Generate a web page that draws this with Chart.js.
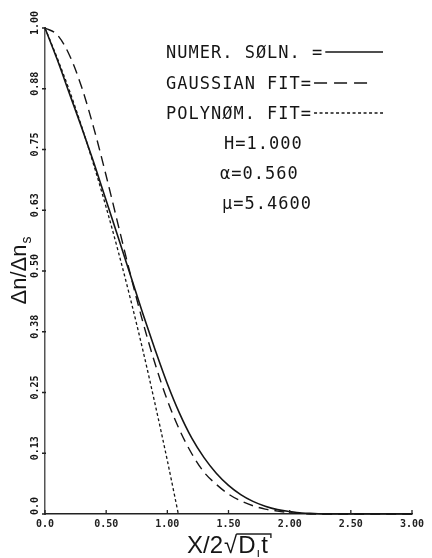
<!DOCTYPE html>
<html>
<head>
<meta charset="utf-8">
<script src="https://cdn.jsdelivr.net/npm/chart.js@4"></script>
<style>
  html, body { margin: 0; padding: 0; background: #fff; }
</style>
</head>
<body>
<canvas id="c" width="432" height="558"></canvas>
<script>
// x positions (X / 2 sqrt(D t)) for the numerical solution and gaussian fit
const xVals = [0, 0.1, 0.2, 0.3, 0.4, 0.5, 0.6, 0.7, 0.8, 0.9, 1.0, 1.1, 1.2, 1.3, 1.4, 1.5,
  1.6, 1.7, 1.8, 1.9, 2.0, 2.1, 2.2, 2.3, 2.4, 2.5, 2.6, 2.7, 2.8, 2.9, 3.0];
const numerSoln = [1.000, 0.935, 0.865, 0.795, 0.722, 0.645, 0.568, 0.490, 0.412, 0.338, 0.268,
  0.207, 0.156, 0.116, 0.084, 0.059, 0.040, 0.026, 0.016, 0.009, 0.005, 0.002, 0.001,
  0, 0, 0, 0, 0, 0, 0, 0];
const gaussFit = [1.000, 0.986, 0.944, 0.878, 0.793, 0.696, 0.593, 0.491, 0.395, 0.309, 0.234,
  0.173, 0.124, 0.086, 0.061, 0.041, 0.027, 0.017, 0.010, 0.006, 0.003, 0.001, 0,
  0, 0, 0, 0, 0, 0, 0, 0];
// polynomial fit stops where it hits zero
const polyX = [0, 0.1, 0.2, 0.3, 0.4, 0.5, 0.6, 0.7, 0.8, 0.9, 1.0, 1.09];
const polyFit = [1.000, 0.938, 0.871, 0.797, 0.717, 0.631, 0.539, 0.441, 0.337, 0.226, 0.110, 0];

const xTickLabels = ['0.0', '0.50', '1.00', '1.50', '2.00', '2.50', '3.00'];
const yTickLabels = ['0.0', '0.13', '0.25', '0.38', '0.50', '0.63', '0.75', '0.88', '1.00'];
const legendLabels = ['NUMER. SØLN. =', 'GAUSSIAN FIT=', 'POLYNØM. FIT='];
const paramLabels = ['H=1.000', 'α=0.560', 'μ=5.4600'];

const INK = '#151515';
const TICK_FONT = 'bold 10px "DejaVu Sans Mono"';
const pts = (xs, ys) => xs.map((x, i) => ({ x, y: ys[i] }));

const dashes = [[], [13, 7], [3, 2.5]];

// axis titles, tick marks, rotated y labels and the text legend in the upper right
const decor = {
  id: 'decor',
  afterDraw(chart) {
    const { ctx, chartArea: a, scales: { x, y } } = chart;
    ctx.save();
    ctx.strokeStyle = '#222';
    ctx.lineWidth = 1.3;
    ctx.beginPath();
    x.ticks.forEach(t => {
      const px = x.getPixelForValue(t.value);
      ctx.moveTo(px, a.bottom); ctx.lineTo(px, a.bottom - 4);
    });
    y.ticks.forEach(t => {
      const py = y.getPixelForValue(t.value);
      ctx.moveTo(a.left - 3, py); ctx.lineTo(a.left + 1, py);
    });
    ctx.stroke();

    ctx.fillStyle = INK;

    // y tick labels, reading bottom to top
    ctx.font = TICK_FONT;
    ctx.textAlign = 'center';
    ctx.textBaseline = 'middle';
    y.ticks.forEach((t, i) => {
      const py = y.getPixelForValue(t.value);
      ctx.save();
      ctx.translate(a.left - 10, i === 0 ? py - 8 : py - 5);
      ctx.rotate(-Math.PI / 2);
      ctx.fillText(yTickLabels[i], 0, 0);
      ctx.restore();
    });

    ctx.textBaseline = 'alphabetic';

    // y title: Δn/Δn_s
    ctx.save();
    ctx.translate(26, 271);
    ctx.rotate(-Math.PI / 2);
    ctx.font = '22px "Liberation Sans"';
    const main = 'Δn/Δn';
    const wm = ctx.measureText(main).width;
    ctx.font = '14px "Liberation Sans"';
    const ws = ctx.measureText('s').width;
    const x0 = -(wm + ws) / 2;
    ctx.font = '22px "Liberation Sans"';
    ctx.textAlign = 'left';
    ctx.fillText(main, x0, 0);
    ctx.font = '14px "Liberation Sans"';
    ctx.fillText('s', x0 + wm + 1, 5);
    ctx.restore();

    // x title: X/2 sqrt(D_i t)
    ctx.save();
    ctx.textAlign = 'left';
    const base = 553;
    const parts = [['X/2', 24, 0], ['√', 24, 0], ['D', 24, 0], ['ı', 13, 4], ['t', 24, 0]];
    let total = 0;
    parts.forEach(p => { ctx.font = p[1] + 'px "Liberation Sans"'; total += ctx.measureText(p[0]).width + 1; });
    let cx = 228 - total / 2;
    let rootEnd = 0;
    parts.forEach((p, i) => {
      ctx.font = p[1] + 'px "Liberation Sans"';
      ctx.fillText(p[0], cx, base + p[2]);
      cx += ctx.measureText(p[0]).width + 1;
      if (i === 1) rootEnd = cx - 2;
    });
    ctx.lineWidth = 1.4;
    ctx.beginPath();
    ctx.moveTo(rootEnd, base - 19);
    ctx.lineTo(cx + 2, base - 19);
    ctx.lineTo(cx + 2, base - 15);
    ctx.stroke();
    ctx.restore();

    // legend rows
    ctx.font = '17px "DejaVu Sans Mono"';
    ctx.letterSpacing = '1px';
    ctx.textAlign = 'left';
    const rowY = [52, 83, 113];
    legendLabels.forEach((txt, i) => {
      ctx.fillText(txt, 166, rowY[i] + 6);
      const end = 166 + ctx.measureText(txt).width + 2;
      ctx.save();
      ctx.strokeStyle = INK;
      ctx.lineWidth = 1.4;
      ctx.setLineDash(dashes[i]);
      ctx.beginPath();
      ctx.moveTo(end, rowY[i]);
      ctx.lineTo(i === 1 ? 373 : 383, rowY[i]);
      ctx.stroke();
      ctx.restore();
    });
    const parX = [224, 220, 222];
    const parY = [143, 173, 203];
    paramLabels.forEach((txt, i) => ctx.fillText(txt, parX[i], parY[i] + 6));
    ctx.restore();
  }
};

const lineSet = (label, data, dash, width) => ({
  label, data, showLine: true, borderColor: INK, borderWidth: width,
  borderDash: dash, pointRadius: 0, cubicInterpolationMode: 'monotone', clip: 6
});

new Chart(document.getElementById('c'), {
  type: 'scatter',
  data: {
    datasets: [
      lineSet('NUMER. SØLN.', pts(xVals, numerSoln), [], 1.6),
      lineSet('GAUSSIAN FIT', pts(xVals, gaussFit), [10, 6], 1.4),
      lineSet('POLYNØM. FIT', pts(polyX, polyFit), [3, 2.5], 1.3)
    ]
  },
  options: {
    responsive: false,
    animation: false,
    layout: { padding: { left: 45, right: 20, top: 28, bottom: 24 } },
    scales: {
      x: {
        type: 'linear', min: 0, max: 3,
        grid: { display: false, drawTicks: false },
        border: { display: true, color: '#222', width: 1.5 },
        ticks: {
          stepSize: 0.5, padding: 4, color: '#222',
          font: { family: 'DejaVu Sans Mono', size: 10, weight: 'bold' },
          callback: (v, i) => xTickLabels[i]
        }
      },
      y: {
        type: 'linear', min: 0, max: 1,
        grid: { display: false, drawTicks: false },
        border: { display: true, color: '#555', width: 1.5 },
        ticks: { stepSize: 0.125, display: false }
      }
    },
    plugins: {
      legend: { display: false },
      tooltip: { enabled: false }
    }
  },
  plugins: [decor]
});
</script>
</body>
</html>
